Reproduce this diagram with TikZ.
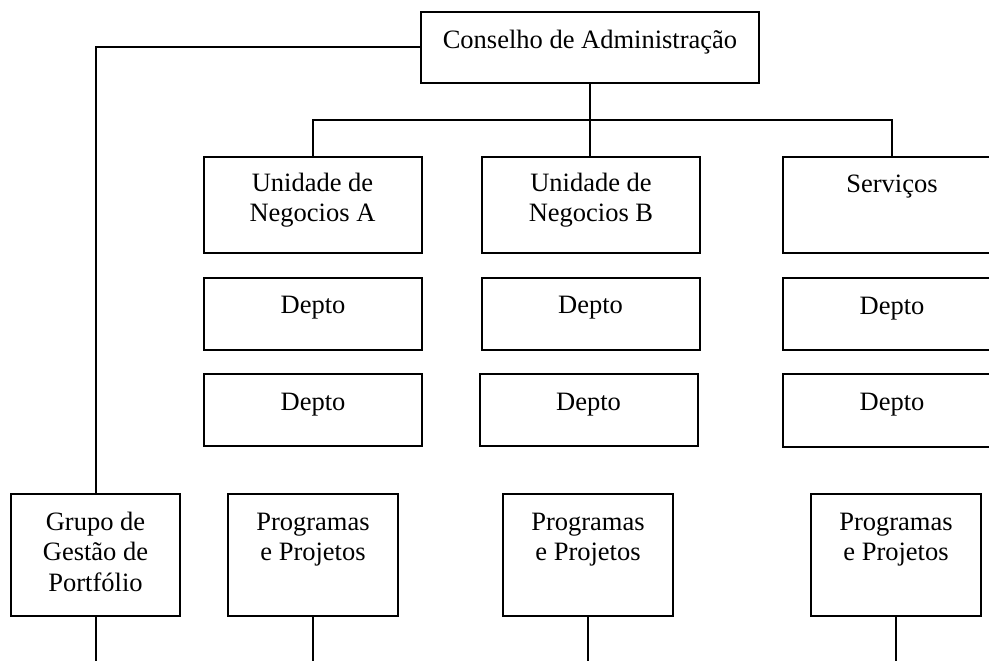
\documentclass[tikz,border=0pt]{standalone}
\usepackage{fontspec}
\setmainfont{Liberation Serif}
\newcommand\orgfont{\fontsize{26.5}{30.5}\selectfont}
\newcommand\orgtext[4]{\parbox[t][#2][t]{#1}{\centering\rule{0pt}{#3}#4}}
\tikzset{
  orgbox/.style={draw, line width=2pt, inner sep=0pt, outer sep=0pt, anchor=north west, font=\orgfont},
  link/.style={line width=2pt}
}
\begin{document}
\begin{tikzpicture}[x=1pt,y=1pt]
\clip (0,0) rectangle (989,-661);
\fill[white] (0,0) rectangle (989,-661);
% boxes
\node[orgbox] (cons) at (421,-12) {\orgtext{338pt}{71pt}{37pt}{Conselho de Administração}};
\node[orgbox] (ua) at (203.5,-157) {\orgtext{218pt}{96pt}{34pt}{Unidade de\\Negocios A}};
\node[orgbox] (ub) at (482,-157) {\orgtext{218pt}{96pt}{34pt}{Unidade de\\Negocios B}};
\node[orgbox] (sv) at (783,-157) {\orgtext{218pt}{96pt}{35pt}{Serviços}};
\node[orgbox] (da1) at (204,-277.5) {\orgtext{218pt}{72pt}{36pt}{Depto}};
\node[orgbox] (da2) at (204,-374) {\orgtext{218pt}{72pt}{36pt}{Depto}};
\node[orgbox] (db1) at (481.5,-277.5) {\orgtext{218pt}{72pt}{36pt}{Depto}};
\node[orgbox] (db2) at (479.5,-374) {\orgtext{218pt}{72pt}{36pt}{Depto}};
\node[orgbox] (ds1) at (783,-278) {\orgtext{218pt}{72pt}{36pt}{Depto}};
\node[orgbox] (ds2) at (783,-374) {\orgtext{218pt}{73pt}{36pt}{Depto}};
\node[orgbox] (gp) at (11,-494) {\orgtext{169pt}{122pt}{36pt}{Grupo de\\Gestão de\\Portfólio}};
\node[orgbox] (pa) at (228,-494) {\orgtext{170pt}{122pt}{36pt}{Programas\\e Projetos}};
\node[orgbox] (pb) at (503,-494) {\orgtext{170pt}{122pt}{36pt}{Programas\\e Projetos}};
\node[orgbox] (pc) at (811,-494) {\orgtext{170pt}{122pt}{36pt}{Programas\\e Projetos}};
% connectors
\coordinate (bus) at (591,-120.5);
\coordinate (bot) at (0,-670);
\draw[link] (cons.west) -| (gp.north);
\draw[link] (cons.south) -- (cons.south |- ub.north);
\draw[link] (ua.north) |- (bus) -| (sv.north);
\draw[link] (gp.south) -- (gp.south |- bot);
\draw[link] (pa.south) -- (pa.south |- bot);
\draw[link] (pb.south) -- (pb.south |- bot);
\draw[link] (pc.south) -- (pc.south |- bot);
\end{tikzpicture}
\end{document}
